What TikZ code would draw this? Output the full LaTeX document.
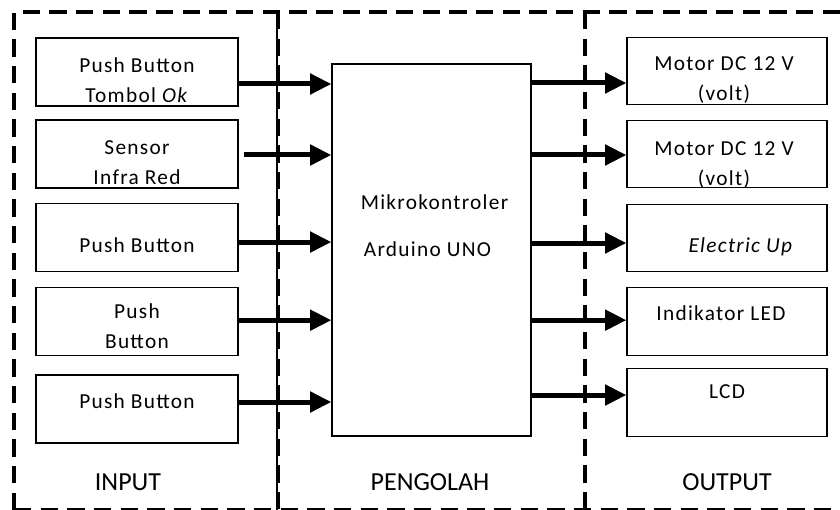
\documentclass[tikz,border=0pt]{standalone}
\usepackage{fontspec}
\setmainfont{Carlito}
\newfontfamily\boxfont{Carlito}[LetterSpace=6]
\usetikzlibrary{arrows.meta,positioning}

\begin{document}
\begin{tikzpicture}[
  x=0.75pt, y=-0.75pt,
  every node/.style={font=\boxfont\fontsize{16}{22.5}\selectfont},
  blockbox/.style={draw,line width=0.9pt,minimum width=151.5pt,minimum height=51pt,inner sep=0pt},
  ctrlbox/.style={draw,line width=0.9pt,minimum width=149.25pt,minimum height=279pt,inner sep=0pt},
  boxtext/.style={align=center,inner sep=0pt},
  zoneline/.style={line width=3pt,dash pattern=on 13pt off 7pt},
  arr/.style={line width=3.75pt,-{Triangle[length=16pt,width=15pt]}},
  zonelabel/.style={font=\fontsize{19.5}{22}\selectfont,inner sep=0pt},
]
  \clip (0,0) rectangle (840,510);

  % Zones
  \draw[zoneline] (14,510) -- (14,12) -- (840,12);
  \draw[zoneline] (14,510) -- (840,510);
  \draw[line width=0.9pt] (277,12) -- (277,510);
  \draw[zoneline,line width=2.5pt] (278,12) -- (278,510);
  \draw[zoneline] (585,12) -- (585,510);

  % Input blocks
  \node[blockbox] (in1) at (137,72) {};
  \node[boxtext] (in1t) at (137,80) {Push Button\\Tombol \textit{Ok}};
  \node[blockbox] (in2) at (137,154) {};
  \node[boxtext] (in2t) at (137,163) {Sensor\\Infra Red};
  \node[blockbox] (in3) at (137,237.5) {};
  \node[boxtext] (in3t) at (137,245) {Push Button};
  \node[blockbox] (in4) at (137,321.5) {};
  \node[boxtext] (in4t) at (137,326) {Push\\Button};
  \node[blockbox] (in5) at (137,409) {};
  \node[boxtext] (in5t) at (137,401) {Push Button};

  % Controller
  \node[ctrlbox] (mcu) at (431.5,250) {};
  \node[boxtext] (mcut1) at (434.5,202) {Mikrokontroler};
  \node[boxtext] (mcut2) at (427.5,249) {Arduino UNO};

  % Output blocks
  \node[blockbox,minimum width=150pt,minimum height=50.5pt] (out1) at (727,71) {};
  \node[boxtext] (out1t) at (724,80) {Motor DC 12 V\\(volt)};
  \node[blockbox,minimum width=150pt,minimum height=50.5pt] (out2) at (727,154) {};
  \node[boxtext] (out2t) at (724,165) {Motor DC 12 V\\(volt)};
  \node[blockbox,minimum width=150pt,minimum height=50.5pt] (out3) at (727,238) {};
  \node[boxtext] (out3t) at (741,247) {\textit{Electric Up}};
  \node[blockbox,minimum width=150pt,minimum height=50.5pt] (out4) at (727,321.5) {};
  \node[boxtext] (out4t) at (721,313) {Indikator LED};
  \node[blockbox,minimum width=150pt,minimum height=50.5pt] (out5) at (727,402.5) {};
  \node[boxtext] (out5t) at (727,392) {LCD};

  % Signals in
  \draw[arr] ([yshift=-9pt]in1.east) -- ([yshift=-9pt]in1.east -| mcu.west);
  \draw[arr] ([xshift=4pt,yshift=-0.75pt]in2.east) -- ([yshift=-0.75pt]in2.east -| mcu.west);
  \draw[arr] ([yshift=-3.4pt]in3.east) -- ([yshift=-3.4pt]in3.east -| mcu.west);
  \draw[arr] ([yshift=1pt]in4.east) -- ([yshift=1pt]in4.east -| mcu.west);
  \draw[arr] ([yshift=5.25pt]in5.east) -- ([yshift=5.25pt]in5.east -| mcu.west);

  % Signals out
  \draw[arr] ([yshift=-9pt]out1.west -| mcu.east) -- ([yshift=-9pt]out1.west);
  \draw[arr] ([yshift=-0.75pt]out2.west -| mcu.east) -- ([yshift=-0.75pt]out2.west);
  \draw[arr] ([yshift=-3.75pt]out3.west -| mcu.east) -- ([yshift=-3.75pt]out3.west);
  \draw[arr] ([yshift=1pt]out4.west -| mcu.east) -- ([yshift=1pt]out4.west);
  \draw[arr] ([yshift=5.6pt]out5.west -| mcu.east) -- ([yshift=5.6pt]out5.west);

  % Zone names
  \node[zonelabel] (inlabel) at (128,482) {INPUT};
  \node[zonelabel] (proclabel) at (430,482) {PENGOLAH};
  \node[zonelabel] (outlabel) at (727,482) {OUTPUT};
\end{tikzpicture}
\end{document}
